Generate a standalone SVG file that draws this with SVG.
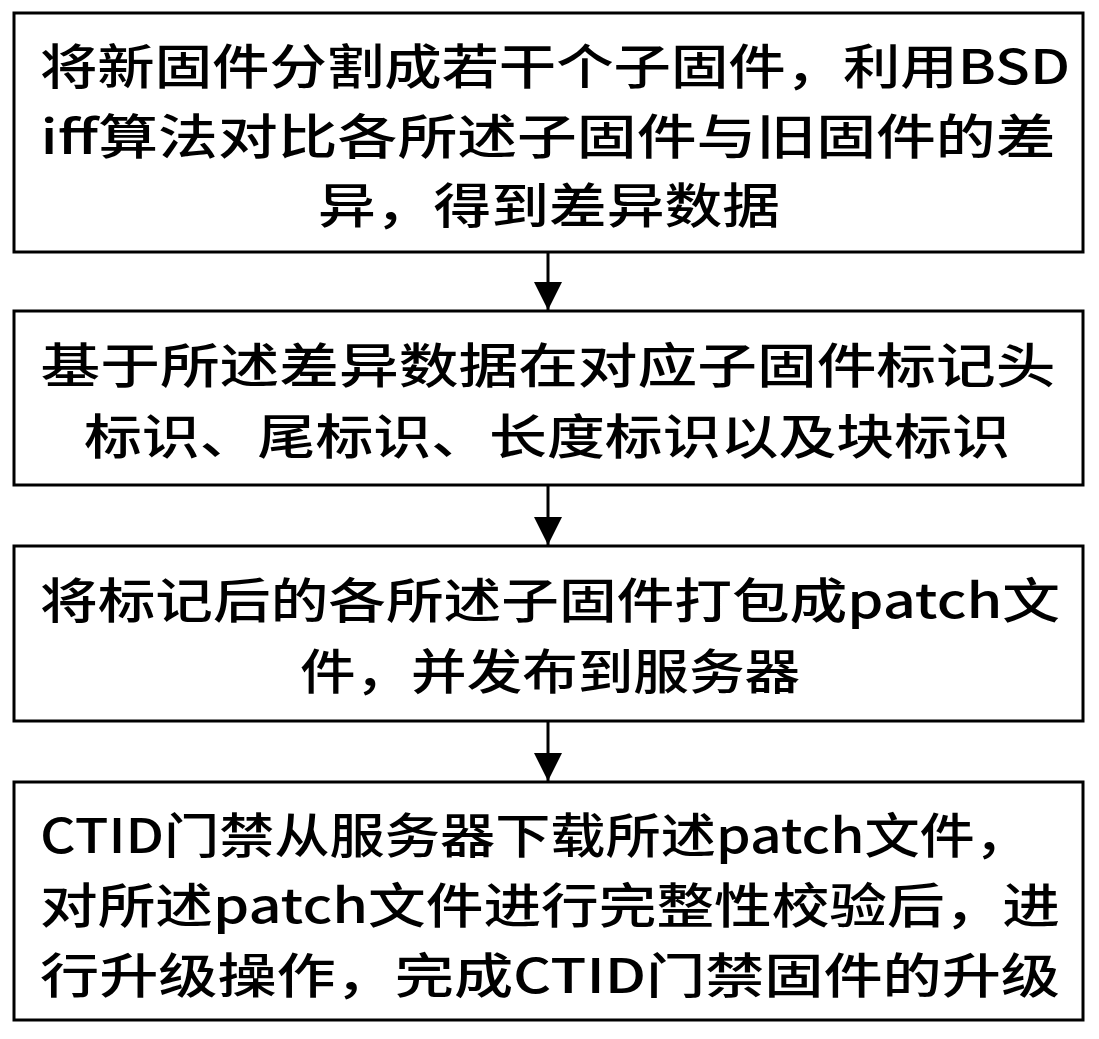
<svg xmlns="http://www.w3.org/2000/svg" width="1099" height="1039" viewBox="0 0 1099 1039">
<style>
.b{fill:#fff;stroke:#000;stroke-width:3}
.t{font-family:"Noto Sans CJK SC","Noto Sans",sans-serif;font-size:48px;font-weight:500;fill:#000;text-anchor:middle}
.c{stroke:#000;stroke-width:3}
</style>
<defs><marker id="a" markerWidth="12" markerHeight="12" refX="10" refY="6" orient="auto" markerUnits="userSpaceOnUse"><path d="M0,0 L12,6 L0,12 Z" transform="scale(1)"/></marker>
<marker id="ar" viewBox="0 0 10 10" refX="10" refY="5" markerWidth="32" markerHeight="28" orient="auto" markerUnits="userSpaceOnUse"><path d="M0,0 L10,5 L0,10 Z"/></marker></defs>
<rect width="1099" height="1039" fill="#fff"/>
<g id="n1"><rect class="b" x="14" y="13" width="1069" height="239"/>
<text class="t" x="555" y="84" textLength="1030" lengthAdjust="spacingAndGlyphs">将新固件分割成若干个子固件，利用BSD</text>
<text class="t" x="548" y="154" textLength="1015" lengthAdjust="spacingAndGlyphs">iff算法对比各所述子固件与旧固件的差</text>
<text class="t" x="549" y="223" textLength="462" lengthAdjust="spacingAndGlyphs">异，得到差异数据</text></g>
<g id="n2"><rect class="b" x="14" y="311" width="1069" height="174"/>
<text class="t" x="548" y="383" textLength="1015" lengthAdjust="spacingAndGlyphs">基于所述差异数据在对应子固件标记头</text>
<text class="t" x="547" y="454" textLength="926" lengthAdjust="spacingAndGlyphs">标识、尾标识、长度标识以及块标识</text></g>
<g id="n3"><rect class="b" x="14" y="546" width="1069" height="175"/>
<text class="t" x="550" y="618" textLength="1020" lengthAdjust="spacingAndGlyphs">将标记后的各所述子固件打包成patch文</text>
<text class="t" x="550" y="689" textLength="500" lengthAdjust="spacingAndGlyphs">件，并发布到服务器</text></g>
<g id="n4"><rect class="b" x="14" y="782" width="1069" height="238"/>
<text class="t" x="535" y="853" textLength="990" lengthAdjust="spacingAndGlyphs">CTID门禁从服务器下载所述patch文件，</text>
<text class="t" x="550" y="923" textLength="1020" lengthAdjust="spacingAndGlyphs">对所述patch文件进行完整性校验后，进</text>
<text class="t" x="550" y="993" textLength="1020" lengthAdjust="spacingAndGlyphs">行升级操作，完成CTID门禁固件的升级</text></g>
<g id="connectors">
<line class="c" x1="548" y1="252" x2="548" y2="310" marker-end="url(#ar)"/>
<line class="c" x1="548" y1="485" x2="548" y2="545" marker-end="url(#ar)"/>
<line class="c" x1="548" y1="721" x2="548" y2="781" marker-end="url(#ar)"/>
</g>
</svg>
